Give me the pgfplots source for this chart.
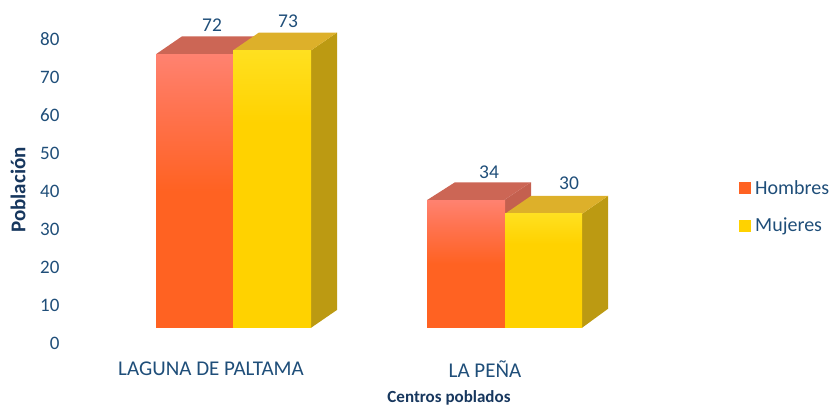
\documentclass[border=0pt]{standalone}
\usepackage{pgfplots}
\pgfplotsset{compat=1.18}
\usepackage{fontspec}
\setmainfont{Carlito}
\definecolor{txt}{HTML}{1F4E79}
\definecolor{txtb}{HTML}{17375E}
\definecolor{homside}{HTML}{C4604F}
\definecolor{homtop}{HTML}{CC6655}
\definecolor{mujside}{HTML}{BC9A12}
\definecolor{mujtop}{HTML}{DDB02A}
\definecolor{hom0}{HTML}{FF6222}
\definecolor{hom1}{HTML}{FF7350}
\definecolor{hom2}{HTML}{FF8270}
\definecolor{muj0}{HTML}{FFD200}
\definecolor{muj1}{HTML}{FFE020}
\pgfdeclareverticalshading{homs}{100bp}{color(0bp)=(hom0); color(50bp)=(hom0); color(65bp)=(hom1); color(75bp)=(hom2); color(100bp)=(hom2)}
\pgfdeclareverticalshading{mujs}{100bp}{color(0bp)=(muj0); color(62bp)=(muj0); color(75bp)=(muj1); color(100bp)=(muj1)}
\begin{document}
\begin{tikzpicture}[x=1pt,y=1pt]
\useasboundingbox (0,0) rectangle (831,407);
\begin{axis}[
    at={(62pt,57pt)}, anchor=south west,
    scale only axis, width=769pt, height=350pt,
    xmin=62, xmax=831, ymin=-1.842, ymax=90.263,
    clip=false,
    axis line style={draw=none},
    tick style={draw=none},
    ytick={0,10,...,80},
    xtick={211,485},
    xticklabels={LAGUNA DE PALTAMA,LA PEÑA},
    ticklabel style={font=\fontsize{19}{21}\selectfont, text=txt},
    /pgf/number format/assume math mode=true,
    yticklabel style={anchor=east, xshift=1pt, yshift=-0.5pt},
    xticklabel style={anchor=center, yshift=-19pt, font=\fontsize{21}{23}\selectfont},
    legend style={at={(axis cs:739,43)}, anchor=north west, draw=none, fill=none,
      font=\fontsize{20}{22}\selectfont, text=txt, row sep=20pt, inner sep=0pt,
      nodes={inner sep=1pt, anchor=west}},
    legend cell align=left,
    legend image code/.code={\path[draw=none, #1] (0pt,-6pt) rectangle (12pt,6pt); \path (15pt,0pt);},
]
% hombres, laguna de paltama
\addplot[forget plot, draw=none, fill=homtop] coordinates {(156,76) (182,80.7) (259,80.7) (233,76) (156,76)};
\addplot[forget plot, draw=none, shading=homs] coordinates {(156,4) (233,4) (233,76) (156,76) (156,4)};
% mujeres, laguna de paltama
\addplot[forget plot, draw=none, fill=mujside] coordinates {(311,4) (337,8.7) (337,81.7) (311,77) (311,4)};
\addplot[forget plot, draw=none, fill=mujtop] coordinates {(233,77) (259,81.7) (337,81.7) (311,77) (233,77)};
\addplot[forget plot, draw=none, shading=mujs] coordinates {(233,4) (311,4) (311,77) (233,77) (233,4)};
% hombres, la pena
\addplot[forget plot, draw=none, fill=homside] coordinates {(504,33) (531,38) (531,42.3) (504,37.6) (504,33)};
\addplot[forget plot, draw=none, fill=homtop] coordinates {(427,37.6) (455,42.3) (531,42.3) (504,37.6) (427,37.6)};
\addplot[forget plot, draw=none, shading=homs] coordinates {(427,4) (505,4) (505,37.6) (427,37.6) (427,4)};
% mujeres, la pena
\addplot[forget plot, draw=none, fill=mujside] coordinates {(582,4) (608,9) (608,38.7) (582,34) (582,4)};
\addplot[forget plot, draw=none, fill=mujtop] coordinates {(505,34) (531,38.7) (608,38.7) (582,34) (505,34)};
\addplot[forget plot, draw=none, shading=mujs] coordinates {(505,4) (582,4) (582,34) (505,34) (505,4)};
% valores
\addplot[forget plot, draw=none, mark=none, nodes near coords, point meta=explicit symbolic,
    every node near coord/.style={anchor=center, inner sep=0pt, font=\fontsize{19.5}{21}\selectfont, text=txt}]
  table[meta=v] {
x y v
212 83.7 72
288 84.7 73
489 45 34
569 42.1 30
};
\addlegendimage{fill=hom0, draw=none}
\addlegendentry{Hombres}
\addlegendimage{fill=muj0, draw=none}
\addlegendentry{Mujeres}
\end{axis}
\node[rotate=90, font=\fontsize{21}{23}\bfseries\selectfont, text=txtb] at (18,217) {Población};
\node[font=\fontsize{17}{19}\bfseries\selectfont, text=txtb] at (449,9) {Centros poblados};
\end{tikzpicture}
\end{document}
